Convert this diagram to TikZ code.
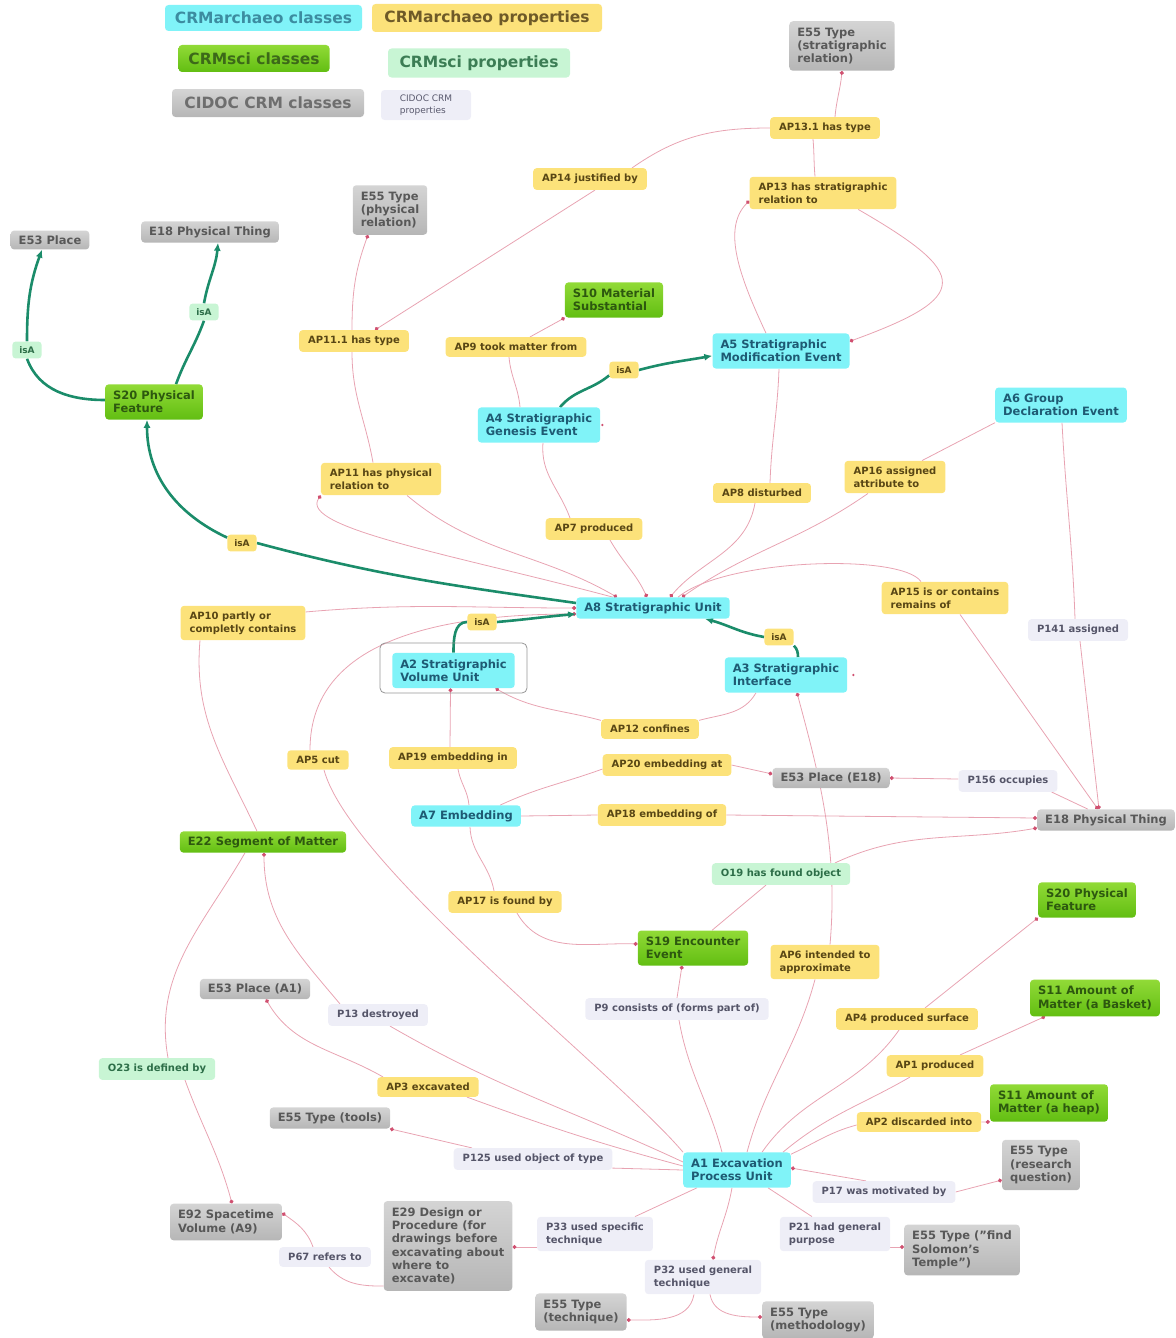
\documentclass[tikz,border=0pt]{standalone}
\usepackage{fontspec}
\setmainfont{DejaVu Sans}
\usetikzlibrary{arrows.meta}
\definecolor{cyanF}{RGB}{128,243,248}
\definecolor{cyanT}{RGB}{30,90,115}
\definecolor{yelF}{RGB}{252,226,122}
\definecolor{yelT}{RGB}{88,70,20}
\definecolor{grnTop}{RGB}{145,218,55}
\definecolor{grnBot}{RGB}{98,190,18}
\definecolor{grnT}{RGB}{45,88,15}
\definecolor{lgF}{RGB}{200,245,212}
\definecolor{lgT}{RGB}{45,110,72}
\definecolor{gryTop}{RGB}{212,212,212}
\definecolor{gryBot}{RGB}{182,182,182}
\definecolor{gryT}{RGB}{88,88,88}
\definecolor{lavF}{RGB}{238,238,247}
\definecolor{lavT}{RGB}{85,85,105}
\definecolor{edgeC}{RGB}{232,163,178}
\definecolor{dotC}{RGB}{208,80,112}
\definecolor{isaC}{RGB}{27,140,106}
\definecolor{frameC}{RGB}{150,150,150}
\definecolor{lgAT}{RGB}{60,140,160}
\definecolor{lgBT}{RGB}{110,90,40}
\definecolor{lgCT}{RGB}{60,105,25}
\definecolor{lgDT}{RGB}{60,125,85}
\definecolor{lgET}{RGB}{110,110,110}
\definecolor{lgFT}{RGB}{90,90,110}
\pgfdeclarelayer{bg}
\pgfsetlayers{bg,main}
\tikzset{
 nbase/.style={rounded corners=3.5pt, align=left, anchor=center},
 cfont/.style={font=\fontsize{11.5}{13.3}\selectfont\bfseries},
 pfont/.style={font=\fontsize{10}{12.7}\selectfont\bfseries},
 acls/.style={nbase,cfont,fill=cyanF,text=cyanT,inner xsep=8pt,inner ysep=6.5pt},
 scls/.style={nbase,cfont,top color=grnTop,bottom color=grnBot,text=grnT,inner xsep=8pt,inner ysep=6.5pt},
 ccls/.style={nbase,cfont,top color=gryTop,bottom color=gryBot,text=gryT,inner xsep=8pt,inner ysep=6.5pt},
 sl/.style={inner ysep=5pt},
 aprop/.style={nbase,pfont,fill=yelF,text=yelT,inner xsep=9pt,inner ysep=6pt},
 sprop/.style={nbase,pfont,fill=lgF,text=lgT,inner xsep=9pt,inner ysep=6pt},
 cprop/.style={nbase,pfont,fill=lavF,text=lavT,inner xsep=9pt,inner ysep=6pt},
 isalab/.style={font=\fontsize{9}{11}\selectfont\bfseries, inner xsep=7pt, inner ysep=5pt},
 pline/.style={draw=edgeC,line width=0.8pt},
 pdot/.style={pline,-{Circle[length=4pt,color=dotC]}},
 isaln/.style={draw=isaC,line width=2.6pt},
 isadot/.style={isaln,-{Latex[length=8pt,width=7pt]}},
 lgnd/.style={rounded corners=3.5pt, align=center, font=\fontsize{15.5}{18}\selectfont\bfseries, inner sep=0pt},
}
\begin{document}
\begin{tikzpicture}[x=1pt,y=1pt]
\useasboundingbox (0,0) rectangle (1175,-1338);
% legend
\node[lgnd,fill=cyanF,text=lgAT,minimum width=197pt,minimum height=26pt] (lg1) at (263.5,-18) {CRMarchaeo classes};
\node[lgnd,fill=yelF,text=lgBT,minimum width=230pt,minimum height=28pt] (lg2) at (487,-18) {CRMarchaeo properties};
\node[lgnd,top color=grnTop,bottom color=grnBot,text=lgCT,minimum width=151pt,minimum height=27pt] (lg3) at (254,-58.5) {CRMsci classes};
\node[lgnd,fill=lgF,text=lgDT,minimum width=182pt,minimum height=29pt] (lg4) at (479,-63) {CRMsci properties};
\node[lgnd,top color=gryTop,bottom color=gryBot,text=lgET,minimum width=192pt,minimum height=28pt] (lg5) at (268,-103) {CIDOC CRM classes};
\node[rounded corners=3.5pt,fill=lavF,text=lgFT,align=left,font=\fontsize{9}{11.5}\selectfont,minimum width=90pt,minimum height=30pt] (lg6) at (426,-105) {CIDOC CRM\\properties};
% nodes
\node[ccls] (E55strat) at (842,-46) {E55 Type\\(stratigraphic\\relation)};
\node[aprop] (AP131) at (825,-128) {AP13.1 has type};
\node[aprop] (AP14) at (590,-179) {AP14 justified by};
\node[aprop] (AP13) at (823,-193) {AP13 has stratigraphic\\relation to};
\node[ccls] (E55phys) at (390,-210) {E55 Type\\(physical\\relation)};
\node[ccls,sl] (E53pl) at (50,-240) {E53 Place};
\node[ccls,sl] (E18top) at (210,-232) {E18 Physical Thing};
\node[sprop,isalab] (isa1) at (204,-312) {isA};
\node[sprop,isalab] (isa2) at (27,-350) {isA};
\node[scls] (S20L) at (154,-402) {S20 Physical\\Feature};
\node[scls] (S10) at (614,-300) {S10 Material\\Substantial};
\node[aprop] (AP111) at (354,-341) {AP11.1 has type};
\node[aprop] (AP9) at (516,-347) {AP9 took matter from};
\node[aprop,isalab] (isa3) at (624,-370) {isA};
\node[acls] (A5) at (781,-351) {A5 Stratigraphic\\Modification Event};
\node[acls] (A4) at (539,-425) {A4 Stratigraphic\\Genesis Event};
\node[acls] (A6) at (1061,-405) {A6 Group\\Declaration Event};
\node[aprop] (AP11) at (381,-479) {AP11 has physical\\relation to};
\node[aprop] (AP8) at (762,-493) {AP8 disturbed};
\node[aprop] (AP16) at (895,-477) {AP16 assigned\\attribute to};
\node[aprop] (AP7) at (594,-529) {AP7 produced};
\node[aprop,isalab] (isa4) at (242,-543) {isA};
\node[acls,sl] (A8) at (653,-608) {A8 Stratigraphic Unit};
\node[aprop] (AP15) at (945,-598) {AP15 is or contains\\remains of};
\node[cprop] (P141) at (1078,-630) {P141 assigned};
\node[aprop] (AP10) at (243,-623) {AP10 partly or\\completly contains};
\node[aprop,isalab] (isa5) at (482,-622) {isA};
\node[aprop,isalab] (isa6) at (779,-637) {isA};
\node[draw=frameC,line width=0.8pt,rounded corners=5pt,minimum width=147pt,minimum height=50pt] (A2frame) at (453.5,-668) {};
\node[acls] (A2) at (453.5,-670.5) {A2 Stratigraphic\\Volume Unit};
\node[acls] (A3) at (786,-675) {A3 Stratigraphic\\Interface};
\node[aprop] (AP12) at (650,-729) {AP12 confines};
\node[aprop] (AP5) at (318,-760) {AP5 cut};
\node[aprop] (AP19) at (453,-758) {AP19 embedding in};
\node[aprop] (AP20) at (667,-765) {AP20 embedding at};
\node[ccls,sl] (E53E18) at (831,-778) {E53 Place (E18)};
\node[cprop] (P156) at (1008,-781) {P156 occupies};
\node[acls,sl] (A7) at (466,-816) {A7 Embedding};
\node[aprop] (AP18) at (662,-815) {AP18 embedding of};
\node[ccls,sl] (E18R) at (1106,-820) {E18 Physical Thing};
\node[scls,sl] (E22) at (263,-842) {E22 Segment of Matter};
\node[sprop] (O19) at (781,-874) {O19 has found object};
\node[aprop] (AP17) at (505,-902) {AP17 is found by};
\node[scls] (S19) at (693,-948) {S19 Encounter\\Event};
\node[aprop] (AP6) at (825,-962) {AP6 intended to\\approximate};
\node[scls] (S20R) at (1087,-900) {S20 Physical\\Feature};
\node[ccls,sl] (E53A1) at (255,-989) {E53 Place (A1)};
\node[cprop] (P13) at (378,-1015) {P13 destroyed};
\node[cprop] (P9) at (677,-1009) {P9 consists of (forms part of)};
\node[aprop] (AP4) at (907,-1019) {AP4 produced surface};
\node[scls] (S11B) at (1095,-998) {S11 Amount of\\Matter (a Basket)};
\node[sprop] (O23) at (157,-1069) {O23 is defined by};
\node[aprop] (AP1) at (935,-1066) {AP1 produced};
\node[aprop] (AP3) at (428,-1087) {AP3 excavated};
\node[scls] (S11H) at (1049,-1103) {S11 Amount of\\Matter (a heap)};
\node[ccls,sl] (E55tools) at (330,-1118) {E55 Type (tools)};
\node[aprop] (AP2) at (919,-1122) {AP2 discarded into};
\node[cprop] (P125) at (533,-1159) {P125 used object of type};
\node[acls] (A1) at (737,-1170) {A1 Excavation\\Process Unit};
\node[ccls] (E55rq) at (1041,-1165) {E55 Type\\(research\\question)};
\node[cprop] (P17) at (884,-1192) {P17 was motivated by};
\node[ccls] (E92) at (226,-1222) {E92 Spacetime\\Volume (A9)};
\node[ccls] (E29) at (448,-1246) {E29 Design or\\Procedure (for\\drawings before\\excavating about\\where to\\excavate)};
\node[cprop] (P67) at (325,-1257) {P67 refers to};
\node[cprop] (P33) at (595,-1234) {P33 used specific\\technique};
\node[cprop] (P21) at (835,-1234) {P21 had general\\purpose};
\node[ccls] (E55sol) at (962,-1250) {E55 Type ("find\\Solomon's\\Temple")};
\node[cprop] (P32) at (703,-1277) {P32 used general\\technique};
\node[ccls] (E55tech) at (581,-1312) {E55 Type\\(technique)};
\node[ccls] (E55meth) at (818,-1320) {E55 Type\\(methodology)};
% edges
\begin{pgfonlayer}{bg}
\draw[pdot] ([xshift=10pt]AP131.north) to[out=85,in=-95] (E55strat.south);
\draw[pline] ([xshift=-8pt]AP13.north) to[out=95,in=-85] ([xshift=-12pt]AP131.south);
\draw[pline] ([xshift=-15pt]AP14.north east) to[out=35,in=180] (AP131.west);
\draw[pdot] ([xshift=5pt]AP14.south) -- ([xshift=21pt]AP111.north);
\draw[pdot] ([xshift=-2pt]AP111.north) to[out=90,in=-110] ([xshift=-22pt]E55phys.south);
\draw[pline] ([xshift=-8pt]AP11.north) to[out=100,in=-90] ([xshift=-2pt]AP111.south);
\draw[pdot] ([xshift=-15pt]A5.north) .. controls +(115:60) and +(225:40) .. (AP13.186);
\draw[pdot] (AP13.-25) .. controls +(-30:130) and +(20:130) .. (A5.8);
\draw[isaln] ([xshift=21pt]A4.north) to[out=50,in=220] (isa3.200);
\draw[isadot] (isa3.east) to[out=15,in=190] (A5.184);
\draw[pdot] ([xshift=14pt]AP9.north) -- (S10.south west);
\draw[pline] ([xshift=-19pt]A4.north) to[out=95,in=-85] ([xshift=-7pt]AP9.south);
\draw[pline] ([xshift=4pt]A4.south) to[out=-95,in=110] ([xshift=-24pt]AP7.north);
\draw[pdot] ([xshift=16pt]AP7.south) to[out=-60,in=115] ([xshift=-6pt]A8.north);
\draw[pline] ([xshift=-2pt]A5.south) to[out=-92,in=88] ([xshift=8pt]AP8.north);
\draw[pdot] ([xshift=-7pt]AP8.south) to[out=-100,in=50] ([xshift=17pt]A8.north);
\draw[pline] (A6.south west) -- ([xshift=27pt]AP16.north);
\draw[pdot] ([xshift=-27pt]AP16.south) to[out=-145,in=35] ([xshift=29pt]A8.north);
\draw[pdot] ([xshift=-40pt]A8.north) .. controls +(165:160) and +(235:40) .. (AP11.south west);
\draw[pdot] ([xshift=26pt]AP11.south) to[out=-40,in=150] ([xshift=-36pt]A8.north);
\draw[isaln] ([yshift=5pt]A8.west) to[out=172,in=-15] (isa4.east);
\draw[isadot] (isa4.160) to[out=155,in=-90] ([xshift=-7pt]S20L.south);
\draw[isaln] ([yshift=2pt]S20L.west) to[out=180,in=-70] (isa2.south);
\draw[isadot] (isa2.north) to[out=90,in=-110] ([xshift=-8pt]E53pl.south);
\draw[isaln] ([xshift=22pt]S20L.north) to[out=70,in=-110] (isa1.south);
\draw[isadot] (isa1.north) to[out=80,in=-95] ([xshift=8pt]E18top.south);
\draw[pline] ([xshift=-6pt]E22.north) to[out=115,in=-95] ([xshift=-43pt]AP10.south);
\draw[pdot] (AP10.10) to[out=5,in=180] (A8.west);
\draw[pdot] ([xshift=-8pt]AP5.north) .. controls +(90:90) and +(180:180) .. ([yshift=-6pt]A8.west);
\draw[pline] ([xshift=6pt]AP5.south) .. controls +(-75:100) and +(130:100) .. (A1.north west);
\draw[isaln] (A2.north) to[out=90,in=180] (isa5.west);
\draw[isadot] (isa5.east) to[out=5,in=185] ([yshift=-6pt]A8.west);
\draw[isaln] ([xshift=12pt]A3.north) to[out=90,in=-45] (isa6.south east);
\draw[isadot] (isa6.west) to[out=170,in=-15] ([xshift=52pt]A8.south);
\draw[pline] ([xshift=-30pt]A3.south) to[out=-120,in=15] (AP12.10);
\draw[pdot] (AP12.170) to[out=165,in=-30] ([xshift=42pt]A2.south);
\draw[pline] ([xshift=3pt]A7.north) to[out=95,in=-80] ([xshift=5pt]AP19.south);
\draw[pdot] ([xshift=-3pt]AP19.north) -- ([xshift=-3pt]A2.south);
\draw[pline] ([xshift=34pt]A7.north) to[out=25,in=200] ([yshift=-4pt]AP20.west);
\draw[pdot] (AP20.east) -- ([yshift=4pt]E53E18.west);
\draw[pline] (A7.east) -- (AP18.west);
\draw[pdot] (AP18.east) -- ([yshift=2pt]E18R.west);
\draw[pline] ([xshift=-18pt]E18R.north) -- ([xshift=-6pt]P156.south east);
\draw[pdot] ([yshift=2pt]P156.west) -- (E53E18.east);
\draw[pline] ([xshift=25pt]A8.north) .. controls +(40:60) and +(125:35) .. ([xshift=-24pt]AP15.north);
\draw[pdot] ([xshift=15pt]AP15.south) -- ([xshift=-8pt]E18R.north);
\draw[pline] ([xshift=1pt]A6.south) to[out=-87,in=92] ([xshift=-3pt]P141.north);
\draw[pdot] ([xshift=2pt]P141.south) -- ([xshift=-7pt]E18R.north);
\draw[pline] ([xshift=10pt]A1.north) to[out=75,in=-105] ([xshift=-10pt]AP6.south);
\draw[pdot] ([xshift=5pt]AP6.north) .. controls +(85:100) and +(-75:80) .. ([xshift=11pt]A3.south);
\draw[pline] ([xshift=19pt]S19.north) -- ([xshift=-15pt]O19.south);
\draw[pdot] ([xshift=54pt]O19.north) to[out=25,in=190] ([yshift=-8pt]E18R.west);
\draw[pline] ([xshift=4pt]A7.south) to[out=-88,in=100] ([xshift=-11pt]AP17.north);
\draw[pdot] ([xshift=12pt]AP17.south) to[out=-60,in=178] ([yshift=4pt]S19.west);
\draw[pline] ([xshift=-15pt]A1.north) to[out=105,in=-80] ([xshift=2pt]P9.south);
\draw[pdot] (P9.north) -- ([xshift=-11pt]S19.south);
\draw[pline] ([xshift=25pt]A1.north) to[out=55,in=-125] ([xshift=-8pt]AP4.south);
\draw[pdot] ([xshift=18pt]AP4.north) -- (S20R.south west);
\draw[pline] ([xshift=-8pt]A1.north east) to[out=40,in=-150] ([xshift=-25pt]AP1.south);
\draw[pdot] ([xshift=25pt]AP1.north) -- ([xshift=-50pt]S11B.south);
\draw[pline] ([yshift=-2pt]A1.north east) to[out=25,in=195] ([yshift=-3pt]AP2.west);
\draw[pdot] (AP2.east) -- (S11H.south west);
\draw[pline] ([yshift=8pt]A1.west) to[out=155,in=-30] ([xshift=12pt]P13.south);
\draw[pdot] ([xshift=-38pt]P13.north) to[out=130,in=-90] ([xshift=1pt]E22.south);
\draw[pline] ([yshift=4pt]A1.west) to[out=165,in=-20] ([xshift=-12pt]AP3.south east);
\draw[pdot] ([xshift=-45pt]AP3.north) to[out=150,in=-60] ([xshift=11pt]E53A1.south);
\draw[pline] (A1.west) -- ([yshift=2pt]P125.south east);
\draw[pdot] ([xshift=-61pt]P125.north) -- ([xshift=60pt]E55tools.south);
\draw[pline] ([xshift=-18pt]E22.south) to[out=-120,in=100] ([xshift=11pt]O23.north);
\draw[pdot] ([xshift=28pt]O23.south) to[out=-70,in=105] ([xshift=6pt]E92.north);
\draw[pline] ([yshift=5pt]E29.south west) to[out=180,in=-50] ([xshift=4pt]P67.south);
\draw[pdot] ([xshift=-12pt]P67.north) to[out=110,in=-35] ([yshift=9pt]E92.east);
\draw[pline] ([xshift=-40pt]A1.south) -- ([xshift=40pt]P33.north);
\draw[pdot] ([yshift=-13pt]P33.west) -- ([yshift=-1pt]E29.east);
\draw[pdot] ([xshift=-5pt]A1.south) to[out=-100,in=80] ([xshift=10pt]P32.north);
\draw[pdot] ([xshift=-9pt]P32.south) to[out=-100,in=0] ([yshift=-8pt]E55tech.east);
\draw[pdot] ([xshift=7pt]P32.south) to[out=-80,in=180] ([yshift=3pt]E55meth.west);
\draw[pdot] ([xshift=-18pt]P17.north) -- ([yshift=2pt]A1.east);
\draw[pdot] (P17.east) -- ([yshift=-15pt]E55rq.west);
\draw[pline] ([xshift=31pt]A1.south) -- ([xshift=-23pt]P21.north);
\draw[pdot] ([yshift=-13pt]P21.east) -- ([yshift=3pt]E55sol.west);
\fill[dotC] ([xshift=2pt]A4.east) circle (1.3pt);
\fill[dotC] ([xshift=6pt]A3.east) circle (1.3pt);
\end{pgfonlayer}
\end{tikzpicture}
\end{document}
